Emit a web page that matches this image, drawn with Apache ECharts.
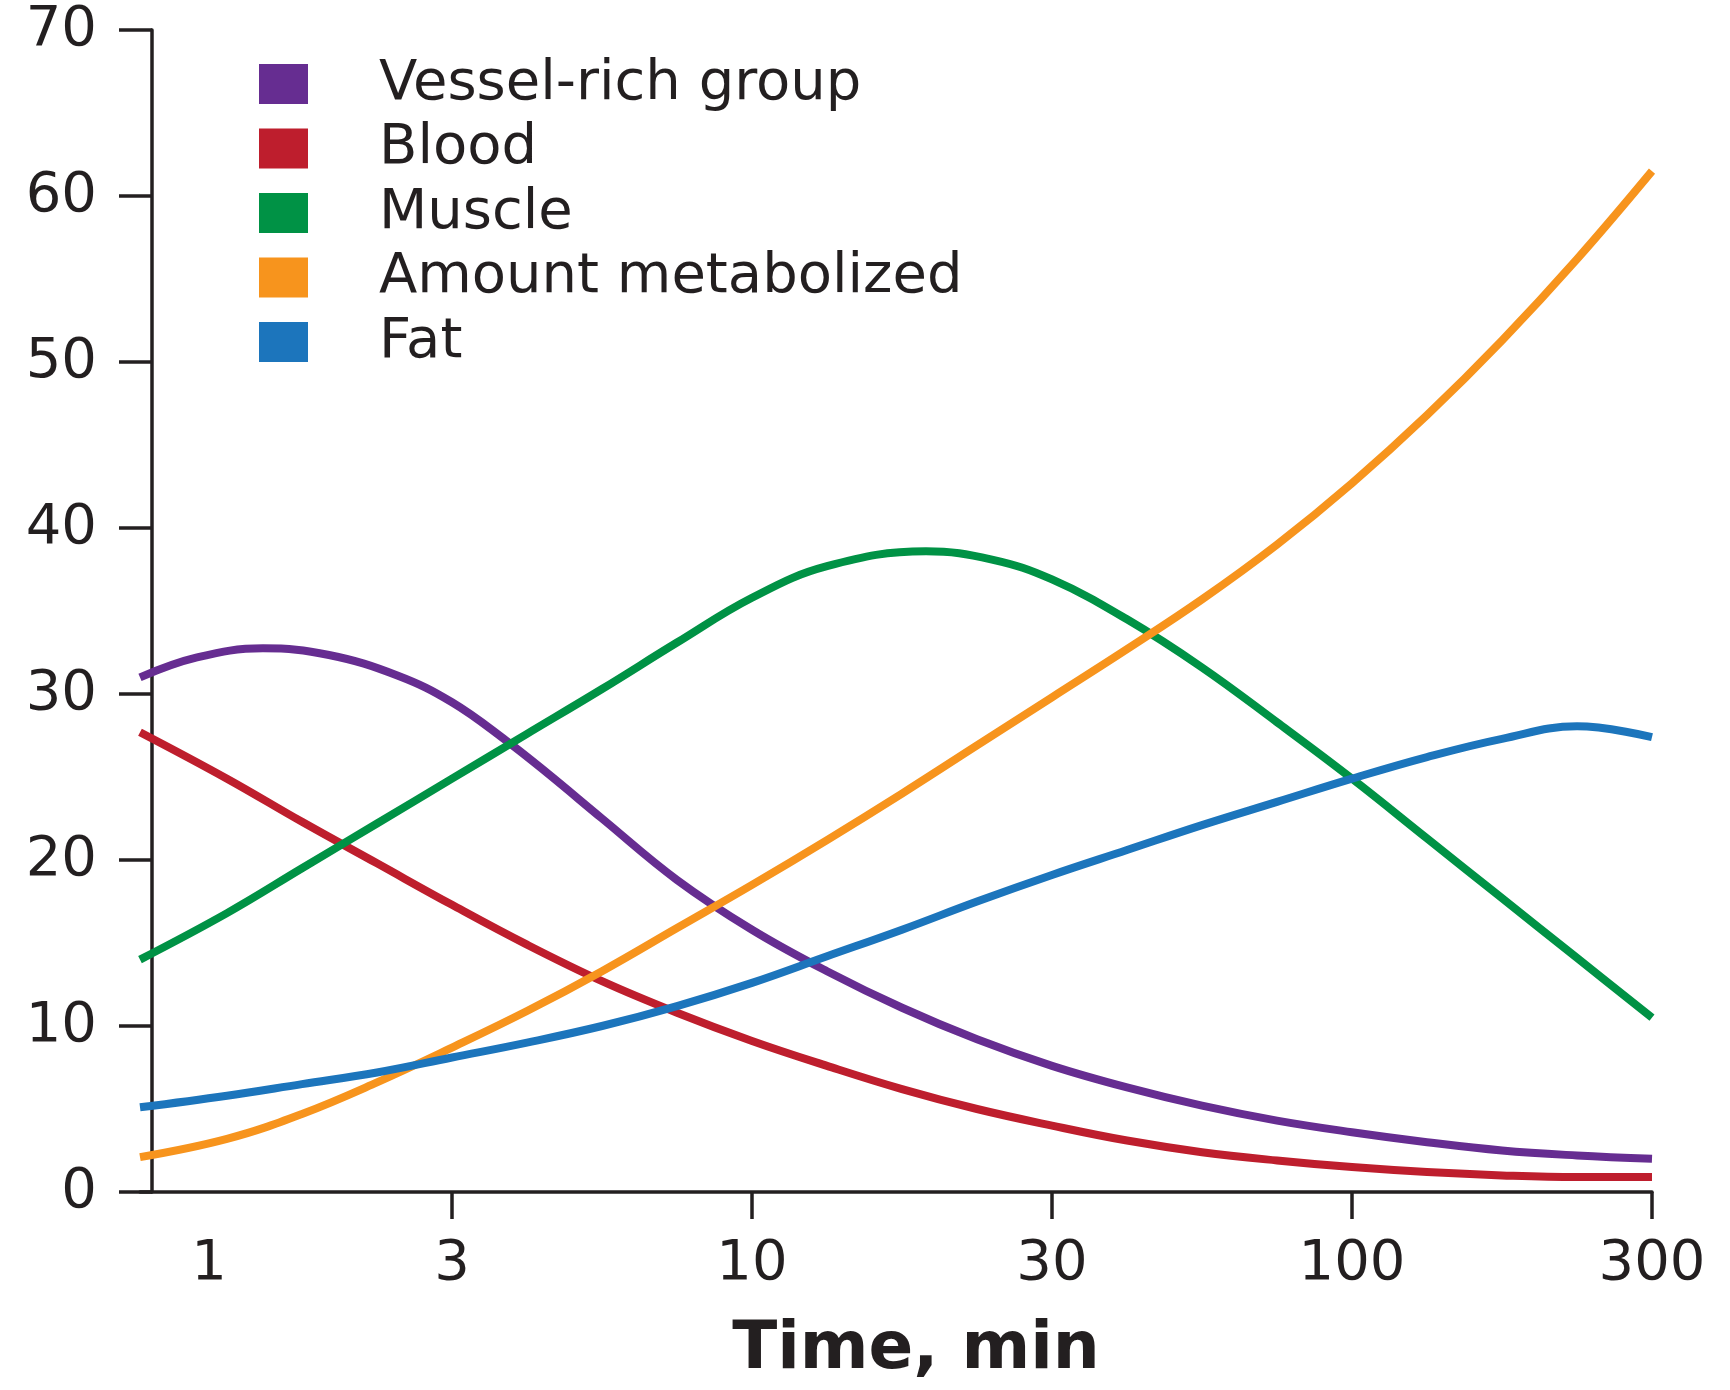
<!DOCTYPE html>
<html>
<head>
<meta charset="utf-8">
<script src="https://cdn.jsdelivr.net/npm/echarts@6/dist/echarts.min.js"></script>
<style>
html,body{margin:0;padding:0;background:#fff;}
#chart{width:1730px;height:1390px;}
</style>
</head>
<body>
<div id="chart"></div>
<script>
// Time axis drawn with evenly spaced 1-3-10-30-100-300 steps: x values are positions on it (1 unit = one step, "3" = 1).
const tickLabels = ['1', '3', '10', '30', '100', '300'];
const tickPos = [0.19, 1, 2, 3, 4, 5];
const majorTickPos = [1, 2, 3, 4, 5];

const seriesNames = ['Vessel-rich group', 'Blood', 'Muscle', 'Amount metabolized', 'Fat'];

// [axis position, percent]
const vesselRich = [[-0.04, 31.0], [0.15, 32.2], [0.37, 32.75], [0.59, 32.35], [0.82, 31.1], [1.0, 29.5], [1.18, 27.2], [1.32, 25.2], [1.5, 22.5], [1.75, 18.8], [2.0, 15.8], [2.25, 13.3], [2.5, 11.1], [2.75, 9.2], [3.0, 7.6], [3.25, 6.3], [3.5, 5.2], [3.75, 4.3], [4.0, 3.6], [4.25, 3.0], [4.5, 2.5], [4.75, 2.2], [5.0, 2.0]];
const blood = [[-0.04, 27.7], [0.25, 24.9], [0.5, 22.3], [0.75, 19.8], [1.0, 17.3], [1.25, 14.9], [1.5, 12.7], [1.75, 10.8], [2.0, 9.1], [2.25, 7.6], [2.5, 6.2], [2.75, 5.0], [3.0, 4.0], [3.25, 3.1], [3.5, 2.4], [3.75, 1.9], [4.0, 1.5], [4.25, 1.2], [4.5, 1.0], [4.75, 0.9], [5.0, 0.9]];
const muscle = [[-0.04, 14.0], [0.25, 16.8], [0.5, 19.5], [0.75, 22.2], [1.0, 24.9], [1.25, 27.6], [1.5, 30.3], [1.75, 33.1], [2.0, 35.8], [2.25, 37.7], [2.58, 38.6], [2.8, 38.1], [3.0, 36.9], [3.25, 34.5], [3.5, 31.6], [3.75, 28.3], [4.0, 24.9], [4.25, 21.3], [4.5, 17.7], [4.75, 14.1], [5.0, 10.5]];
const metabolized = [[-0.04, 2.1], [0.25, 3.2], [0.5, 4.7], [0.75, 6.6], [1.0, 8.7], [1.25, 10.9], [1.5, 13.3], [1.75, 15.9], [2.0, 18.5], [2.25, 21.2], [2.5, 24.0], [2.75, 26.9], [3.0, 29.8], [3.25, 32.7], [3.5, 35.7], [3.75, 39.0], [4.0, 42.7], [4.25, 46.8], [4.5, 51.3], [4.75, 56.2], [5.0, 61.5]];
const fat = [[-0.04, 5.1], [0.25, 5.8], [0.5, 6.5], [0.75, 7.2], [1.0, 8.1], [1.25, 9.0], [1.5, 10.0], [1.75, 11.2], [2.0, 12.6], [2.25, 14.2], [2.5, 15.8], [2.75, 17.5], [3.0, 19.1], [3.25, 20.6], [3.5, 22.1], [3.75, 23.5], [4.0, 24.9], [4.25, 26.2], [4.5, 27.3], [4.75, 28.05], [5.0, 27.4]];

const seriesValues = [vesselRich, blood, muscle, metabolized, fat];
const colors = ['#662D91', '#BE1E2D', '#009245', '#F7941D', '#1C75BC'];

const ink = '#231F20';
const font = '"DejaVu Sans", Verdana, sans-serif';

const chart = echarts.init(document.getElementById('chart'), null, {renderer: 'canvas'});

const series = seriesNames.map((name, i) => ({
  name: name,
  type: 'line',
  data: seriesValues[i],
  smooth: 0.4,
  showSymbol: false,
  symbol: 'none',
  lineStyle: {color: colors[i], width: 8, cap: 'butt'},
  itemStyle: {color: colors[i]},
  z: 5
}));

chart.setOption({
  backgroundColor: '#ffffff',
  animation: false,
  grid: {left: 140, right: 78, top: 30, bottom: 198, containLabel: false},
  legend: {
    orient: 'vertical',
    left: 254,
    top: 51,
    icon: 'rect',
    itemWidth: 49,
    itemHeight: 40,
    itemGap: 8.5,
    data: seriesNames,
    textStyle: {color: ink, fontSize: 56, fontFamily: font, padding: [0, 0, 0, 66]}
  },
  xAxis: {
    type: 'value',
    min: -0.04,
    max: 5,
    splitLine: {show: false},
    axisLine: {show: true, onZero: false, lineStyle: {color: ink, width: 3.5}},
    axisTick: {show: true, customValues: majorTickPos, length: 27, lineStyle: {color: ink, width: 3.5}},
    axisLabel: {
      show: true,
      customValues: tickPos,
      margin: 44,
      color: ink,
      fontSize: 56,
      fontFamily: font,
      formatter: function (v) {
        const k = tickPos.findIndex(p => Math.abs(p - v) < 1e-6);
        return k >= 0 ? tickLabels[k] : '';
      }
    },
    name: 'Time, min',
    nameLocation: 'middle',
    nameGap: 126,
    nameTextStyle: {color: ink, fontSize: 66, fontWeight: 'bold', fontFamily: font, padding: [0, 0, 0, 40]}
  },
  yAxis: {
    type: 'value',
    min: 0,
    max: 70,
    interval: 10,
    splitLine: {show: false},
    axisLine: {show: true, lineStyle: {color: ink, width: 3.5}},
    axisTick: {show: true, length: 33, lineStyle: {color: ink, width: 3.5}},
    axisLabel: {margin: 43, color: ink, fontSize: 56, fontFamily: font}
  },
  series: series
});
</script>
</body>
</html>
